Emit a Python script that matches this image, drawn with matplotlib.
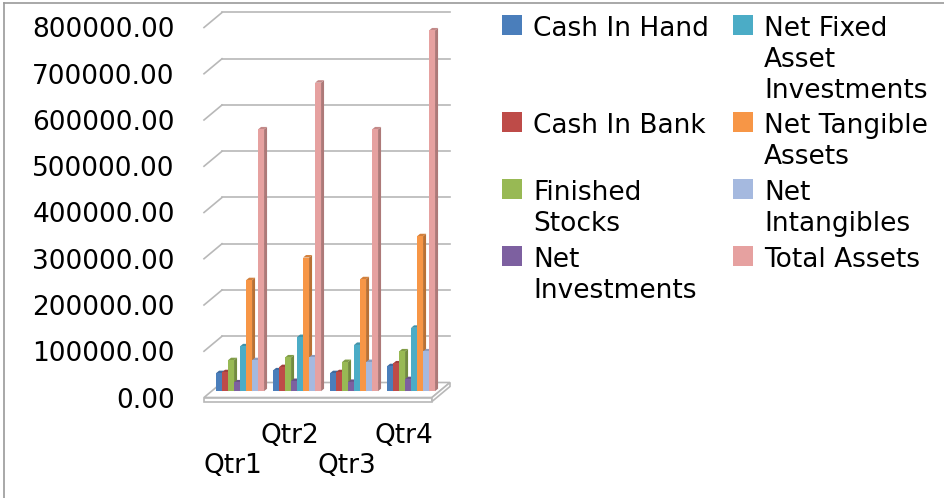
import matplotlib
matplotlib.use('Agg')
import matplotlib.pyplot as plt
from matplotlib.patches import Rectangle
from matplotlib.lines import Line2D
import numpy as np

# data
quarters = ['Qtr1', 'Qtr2', 'Qtr3', 'Qtr4']
series_names = ['Cash In Hand', 'Cash In Bank', 'Finished Stocks', 'Net Investments',
                'Net Fixed Asset Investments', 'Net Tangible Assets', 'Net Intangibles',
                'Total Assets']
legend_labels = ['Cash In Hand', 'Cash In Bank', 'Finished\nStocks', 'Net\nInvestments',
                 'Net Fixed\nAsset\nInvestments', 'Net Tangible\nAssets', 'Net\nIntangibles',
                 'Total Assets']
cash_in_hand = [39000, 45000, 39000, 54000]
cash_in_bank = [41000, 52000, 41000, 60000]
finished_stocks = [67000, 73000, 63000, 86000]
net_investments = [19000, 22000, 20000, 26000]
net_fixed_asset_inv = [97000, 117000, 100000, 137000]
net_tangible_assets = [240000, 289000, 242000, 335000]
net_intangibles = [67000, 73000, 63000, 86000]
total_assets = [566000, 667000, 566000, 780000]
y_ticks = [0, 100000, 200000, 300000, 400000, 500000, 600000, 700000, 800000]

values = [cash_in_hand, cash_in_bank, finished_stocks, net_investments,
          net_fixed_asset_inv, net_tangible_assets, net_intangibles, total_assets]
colors = ['#4a7ebb', '#be4b48', '#98b954', '#7d60a0', '#4bacc6', '#f79646', '#a5b9df', '#e6a1a0']

W, H = 944, 498
FS = 19
fig = plt.figure(figsize=(W / 100, H / 100), dpi=100)

# axes = front plane of the fake 3d box
x0, x1, yb, yt = 204, 432, 397.5, 27.5
ax = fig.add_axes([x0 / W, 1 - yb / H, (x1 - x0) / W, (yb - yt) / H])
ax.set_xlim(0, 4)
ax.set_ylim(0, 800000)
for s in ax.spines.values():
    s.set_visible(False)

px_x = 4 / (x1 - x0)          # data units per pixel
px_y = 800000 / (yb - yt)
DX, DY = 18 * px_x, 15 * px_y  # depth of the box
grid_c = '#b8b8b8'

# back wall gridlines + left wall diagonals
for v in y_ticks[1:]:
    ax.plot([DX, 4 + DX], [v + DY, v + DY], color=grid_c, lw=1.2, clip_on=False, zorder=1)
    ax.plot([0, DX], [v, v + DY], color=grid_c, lw=1.2, clip_on=False, zorder=1)

# floor slab
th = 4 * px_y
floor_top = np.array([[0, 0], [4, 0], [4 + DX, DY], [DX, DY]])
ax.fill(floor_top[:, 0], floor_top[:, 1], facecolor='white', edgecolor=grid_c, lw=1.2,
        clip_on=False, zorder=2)
ax.fill([0, 4, 4, 0], [0, 0, -th, -th], facecolor='white', edgecolor=grid_c, lw=1.2,
        clip_on=False, zorder=2)
ax.fill([4, 4 + DX, 4 + DX, 4], [0, DY, DY - th, -th], facecolor='white', edgecolor=grid_c,
        lw=1.2, clip_on=False, zorder=2)


def shade(c, f):
    rgb = np.array(matplotlib.colors.to_rgb(c))
    if f < 1:
        return tuple(rgb * f)
    return tuple(rgb + (1 - rgb) * (f - 1))


# bars
bw = 6 * px_x
bdx, bdy = 3 * px_x, 2.5 * px_y
shift_x, shift_y = 0.42 * DX, 0.42 * DY
xc = np.arange(len(quarters)) + 0.5
for k, (vals, c) in enumerate(zip(values, colors)):
    left = xc - 4 * bw + k * bw + shift_x
    z = 10 + 2 * k
    for xl, v in zip(left, vals):
        top = v + shift_y
        ax.fill([xl + bw, xl + bw + bdx, xl + bw + bdx, xl + bw],
                [shift_y, shift_y + bdy, top + bdy, top],
                facecolor=shade(c, 0.75), edgecolor='none', clip_on=False, zorder=z)
        ax.fill([xl, xl + bw, xl + bw + bdx, xl + bdx],
                [top, top, top + bdy, top + bdy],
                facecolor=shade(c, 0.85), edgecolor='none', clip_on=False, zorder=z)
    ax.bar(left, vals, width=bw, bottom=shift_y, align='edge', color=c,
           edgecolor='none', zorder=z + 1, clip_on=False)

# axis labels
ax.set_yticks(y_ticks)
ax.set_yticklabels(['%.2f' % v for v in y_ticks])
ax.tick_params(axis='y', length=0, pad=21, labelsize=FS)
ax.set_xticks(xc)
ax.set_xticklabels([q if i % 2 else '\n' + q for i, q in enumerate(quarters)])
ax.tick_params(axis='x', length=0, pad=18, labelsize=FS)
for t in ax.get_xticklabels():
    t.set_linespacing(1.2)

# legend drawn by hand so that the rows line up across columns
legend_pos = [(502, 36), (502, 133), (502, 200), (502, 267),
              (733, 36), (733, 133), (733, 200), (733, 267)]
for (lx, base), lab, c in zip(legend_pos, legend_labels, colors):
    fig.add_artist(Rectangle((lx / W, 1 - (base - 1) / H), 20 / W, 20 / H,
                             transform=fig.transFigure, facecolor=c, edgecolor='none'))
    for i, line in enumerate(lab.split('\n')):
        fig.text((lx + 31) / W, 1 - (base + i * 30.8) / H, line, fontsize=FS,
                 va='baseline', ha='left', color='black')

# chart border (cropped)
fig.add_artist(Line2D([4 / W, 1], [1 - 3 / H, 1 - 3 / H], color='#9a9a9a', lw=1.2,
                      transform=fig.transFigure))
fig.add_artist(Line2D([4 / W, 4 / W], [0, 1 - 3 / H], color='#9a9a9a', lw=1.2,
                      transform=fig.transFigure))

fig.savefig('out.png', dpi=100, facecolor='white')
